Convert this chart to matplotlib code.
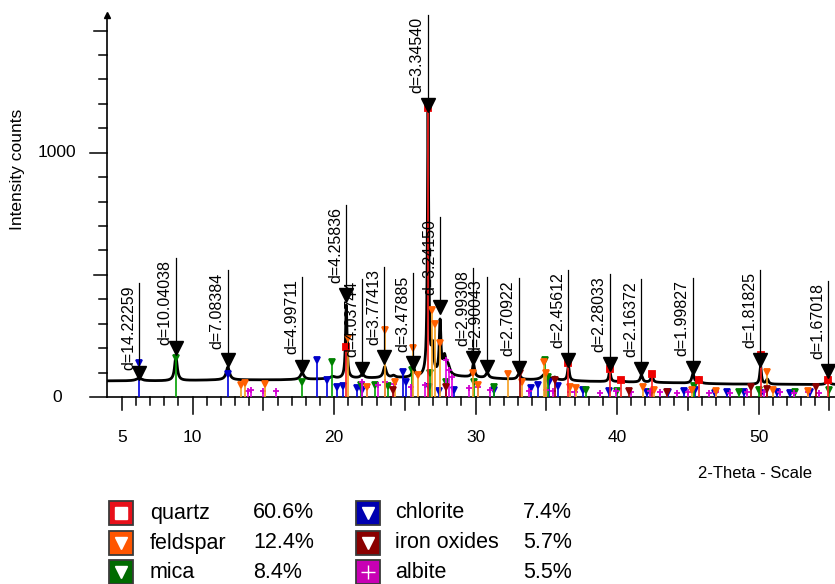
import numpy as np
import matplotlib.pyplot as plt
from matplotlib.patches import Rectangle
from matplotlib.transforms import blended_transform_factory

plt.rcParams['font.family'] = ['Liberation Sans', 'DejaVu Sans']

# background of the scan (2-theta, counts)
base_tt = [4, 6, 8, 10, 12, 14, 16, 18, 20, 22, 24, 26, 28, 30, 32, 34, 36, 38, 40, 42, 44, 46, 48, 50, 52, 54, 55.5]
base_ct = [66, 66, 66, 68, 70, 70, 70, 72, 75, 77, 78, 80, 85, 80, 74, 70, 68, 64, 62, 60, 58, 55, 53, 52, 52, 51, 51]

# peaks of the measured scan: position, height above background, width
scan_tt = [6.21, 8.82, 12.49, 17.74, 19.9, 20.86, 22.00, 23.58, 24.2, 25.62, 26.64, 26.95, 27.49, 27.8, 28.05,
           29.85, 30.82, 33.06, 34.9, 35.6, 36.56, 39.48, 40.3, 41.72, 42.46, 45.36, 45.8, 50.14, 50.62, 54.9]
scan_h = [10, 100, 52, 26, 8, 300, 14, 45, 8, 35, 1105, 110, 215, 70, 35,
          55, 20, 22, 25, 10, 60, 45, 12, 28, 28, 38, 22, 75, 20, 30]
scan_w = [0.5, 0.22, 0.28, 0.3, 0.4, 0.13, 0.3, 0.25, 0.3, 0.22, 0.11, 0.2, 0.14, 0.25, 0.3,
          0.18, 0.25, 0.25, 0.5, 0.3, 0.15, 0.15, 0.2, 0.2, 0.18, 0.2, 0.2, 0.14, 0.2, 0.18]

# labelled peaks
peak_tt = [6.21, 8.80, 12.49, 17.74, 20.84, 22.00, 23.55, 25.59, 26.62, 27.49,
           29.83, 30.80, 33.04, 36.56, 39.48, 41.71, 45.35, 50.13, 54.93]
peak_ct = [98, 201, 151, 123, 418, 115, 164, 139, 1195, 368,
           160, 123, 119, 151, 135, 115, 119, 151, 106]
peak_d = ['d=14.22259', 'd=10.04038', 'd=7.08384', 'd=4.99711', 'd=4.25836', 'd=4.03744', 'd=3.77413',
          'd=3.47885', 'd=3.34540', 'd=3.24150', 'd=2.99308', 'd=2.90043', 'd=2.70922', 'd=2.45612',
          'd=2.28033', 'd=2.16372', 'd=1.99827', 'd=1.81825', 'd=1.67018']

# reference sticks of the phases
quartz_tt = [20.86, 26.64, 36.54, 39.47, 40.29, 42.45, 45.79, 50.14, 54.87]
quartz_ct = [205, 1183, 138, 115, 70, 94, 70, 172, 70]
feldspar_tt = [13.4, 13.7, 15.1, 21.0, 22.3, 23.6, 24.3, 25.6, 25.9, 26.9, 27.1, 27.5, 29.8, 30.2, 32.3,
               33.3, 34.8, 35.0, 36.7, 37.1, 41.8, 42.6, 45.3, 47.0, 50.6, 51.0, 53.5]
feldspar_ct = [50, 58, 55, 241, 40, 274, 60, 200, 90, 356, 300, 220, 100, 50, 94,
               60, 143, 100, 40, 35, 40, 30, 30, 25, 104, 30, 25]
mica_tt = [8.84, 17.72, 19.85, 21.9, 22.9, 23.8, 25.5, 26.8, 27.9, 29.9, 31.3, 34.9, 35.1, 37.8, 40.0,
           42.4, 45.4, 48.6, 50.0, 52.6, 55.0]
mica_ct = [160, 60, 145, 49, 50, 45, 110, 100, 60, 60, 40, 151, 80, 30, 25,
           20, 45, 20, 30, 20, 30]
chlorite_tt = [6.22, 12.50, 18.78, 19.5, 20.2, 20.6, 21.6, 22.0, 24.9, 25.1, 26.7, 27.4, 28.5, 31.3, 33.9,
               34.4, 35.2, 35.8, 37.6, 39.4, 42.1, 43.6, 44.7, 45.5, 46.9, 47.8, 49.0, 50.2, 51.3, 52.2, 53.6]
chlorite_ct = [138, 95, 151, 70, 40, 45, 35, 30, 104, 60, 40, 25, 30, 30, 35,
               50, 60, 45, 30, 25, 20, 22, 25, 30, 18, 20, 22, 15, 20, 18, 20]
iron_tt = [24.14, 27.9, 33.15, 35.61, 40.85, 43.5, 49.48, 50.6, 54.09]
iron_ct = [30, 40, 98, 70, 25, 20, 40, 31, 40]
albite_tt = [13.9, 14.1, 15.0, 15.9, 22.0, 22.3, 23.1, 23.6, 24.2, 25.4, 26.4, 27.9, 28.1, 28.3, 29.5,
             30.2, 31.0, 33.8, 35.0, 35.5, 36.7, 37.0, 38.8, 39.9, 41.0, 42.3, 43.0, 44.2, 45.0, 46.5,
             47.0, 48.0, 49.2, 50.4, 51.5, 52.5, 53.5, 54.3]
albite_ct = [25, 30, 25, 25, 60, 40, 50, 60, 55, 40, 50, 150, 110, 80, 35,
             40, 30, 25, 30, 25, 20, 20, 15, 25, 20, 25, 20, 15, 20, 15,
             20, 15, 20, 20, 20, 15, 20, 15]

# legend
leg_names = ['quartz', 'feldspar', 'mica', 'chlorite', 'iron oxides', 'albite']
leg_pct = ['60.6%', '12.4%', '8.4%', '7.4%', '5.7%', '5.5%']

W, H = 835, 584
fig = plt.figure(figsize=(W / 100, H / 100), dpi=100)
ax_w, ax_h = 728, 382
ax = fig.add_axes([107 / W, (H - 397) / H, ax_w / W, ax_h / H])
ax.set_xlim(3.95, 55.4)
ax.set_ylim(0, 1564)
for s in ['top', 'right']:
    ax.spines[s].set_visible(False)
ax.spines['left'].set_linewidth(1.2)
ax.spines['bottom'].set_linewidth(1.2)
ax.set_xticks([])
ax.set_yticks([])

# ticks drawn by hand (three lengths)
tx = blended_transform_factory(ax.transData, ax.transAxes)
ty = blended_transform_factory(ax.transAxes, ax.transData)
for v in range(5, 56):
    L = 17 if v % 10 == 0 else (13 if v % 5 == 0 else 8)
    ax.plot([v, v], [0, -L / ax_h], transform=tx, color='k', lw=1.1, clip_on=False)
for v in [5, 10, 20, 30, 40, 50]:
    ax.text(v, -41 / ax_h, str(v), transform=tx, ha='center', va='center', fontsize=12.5)
for v in range(0, 1600, 100):
    L = 17 if v % 1000 == 0 else (13 if v % 500 == 0 else 8)
    ax.plot([0, -L / ax_w], [v, v], transform=ty, color='k', lw=1.1, clip_on=False)
for v in [0, 1000]:
    ax.text(-50 / ax_w, v, str(v), transform=ty, ha='center', va='center', fontsize=12.5)
ax.plot(3.95, 1564, marker='^', ms=5, color='k', clip_on=False)

fig.text(18 / W, 1 - 169 / H, 'Intensity counts', rotation=90, ha='center', va='center', fontsize=12.5)
fig.text(755 / W, 1 - 473 / H, '2-Theta - Scale', ha='center', va='center', fontsize=12)

# measured scan
tt = np.arange(4.0, 55.41, 0.01)
ct = np.interp(tt, base_tt, base_ct)
for p, h, w in zip(scan_tt, scan_h, scan_w):
    ct = ct + h / (1 + ((tt - p) / (w / 2)) ** 2)
ax.plot(tt, ct, color='k', lw=2.0, zorder=2)

# reference sticks
phases = [
    (chlorite_tt, chlorite_ct, '#0000e0', '#0000c8', 'v'),
    (mica_tt, mica_ct, '#00a000', '#008000', 'v'),
    (albite_tt, albite_ct, '#e000e0', '#d000d0', '+'),
    (feldspar_tt, feldspar_ct, '#f5a020', '#ff6000', 'v'),
    (iron_tt, iron_ct, '#a00000', '#8b0000', 'v'),
    (quartz_tt, quartz_ct, '#ff2020', '#ee0000', 's'),
]
for tts, cts, lc, mc, mk in phases:
    ax.vlines(tts, 0, cts, colors=lc, lw=1.2, zorder=3)
    ax.plot(tts, cts, ls='none', marker=mk, color=mc, ms=4.5, mew=1.3, zorder=3)

# peak labels
ax.plot(peak_tt, peak_ct, ls='none', marker='v', color='k', ms=9.5, zorder=5)
for x, c, lab in zip(peak_tt, peak_ct, peak_d):
    ax.plot([x, x], [c, c + 368], color='k', lw=0.9, zorder=5, clip_on=False)
    ax.annotate(lab, (x, c + 368), xytext=(-2.2, -1.5), textcoords='offset points', rotation=90,
                ha='right', va='top', fontsize=11.5, zorder=6, annotation_clip=False)

# legend drawn in pixel coordinates
lax = fig.add_axes([0, 0, 1, 1], zorder=-1)
lax.set_xlim(0, W)
lax.set_ylim(H, 0)
lax.axis('off')
leg_colors = ['#e8101a', '#ff5500', '#006a00', '#0000b0', '#8a0000', '#c800b4']
leg_marks = ['s', 'v', 'v', 'v', 'v', '+']
rows = [513, 543, 572]
cols = [(120.5, 150, 253), (367.5, 395, 523)]
for i, (name, pct, col, mk) in enumerate(zip(leg_names, leg_pct, leg_colors, leg_marks)):
    bx, nx, px = cols[i // 3]
    cy = rows[i % 3]
    lax.add_patch(Rectangle((bx - 12, cy - 12), 24, 24, fc=col, ec='#3a3a3a', lw=1.3))
    lax.plot(bx, cy, marker=mk, color='white', ms=9 if mk != '+' else 10, mew=1.0)
    lax.text(nx, cy, name, ha='left', va='center', fontsize=15.5)
    lax.text(px, cy, pct, ha='left', va='center', fontsize=15.5)

fig.savefig('out.png', dpi=100)
